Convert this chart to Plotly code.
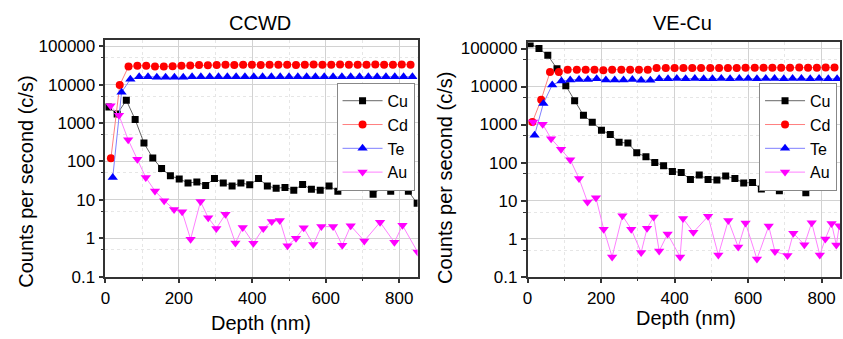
import plotly.graph_objects as go

# ---------------- CCWD (left panel) ----------------
ccwd_cu_depth = [8, 32, 57, 81, 105, 129, 153, 177, 201, 225, 249, 273, 297, 321, 345, 369, 393, 417,
                 441, 465, 489, 513, 537, 561, 585, 609, 633, 657, 681, 705, 729, 753, 777, 801, 825, 849]
ccwd_cu = [2600, 1720, 3900, 1230, 300, 122, 65, 42, 35, 27.5, 29, 23.5, 36, 27.5, 23, 27.5, 24.5, 36,
           23, 20, 21, 17.8, 25, 18.7, 17.8, 23, 16.6, 23, 24.5, 23, 14, 21, 16.6, 23.5, 16.6, 8.1]

ccwd_cd_depth = [15, 39, 63, 87, 111, 135, 159, 183, 207, 231, 255, 279, 303, 327, 351, 375, 399, 423,
                 447, 471, 495, 519, 543, 567, 591, 615, 639, 663, 687, 711, 735, 759, 783, 807, 831]
ccwd_cd = [120, 9700, 29500, 31000, 31000, 29500, 29500, 30000, 31000, 31500, 32500, 32000,
           32500, 33000, 32500, 33000, 33000, 32500, 33000, 33000, 33000, 32500, 33000, 33500,
           33000, 33000, 33500, 33000, 33000, 33000, 33500, 33000, 33000, 33500, 33000]

ccwd_te_depth = [20, 44, 68, 92, 116, 140, 164, 188, 212, 236, 260, 284, 308, 332, 356, 380, 404, 428,
                 452, 476, 500, 524, 548, 572, 596, 620, 644, 668, 692, 716, 740, 764, 788, 812, 836]
ccwd_te = [38, 6300, 13700, 16000, 16000, 15500, 15500, 15500, 15500, 16000, 16000, 15900,
           15900, 16000, 15900, 16000, 16000, 15900, 16000, 16000, 16100, 16000, 16000, 16100,
           16000, 16000, 16100, 16000, 16000, 16100, 16000, 16000, 16100, 16000, 16000]

ccwd_au_depth = [14, 37, 62, 87, 110, 135, 160, 187, 209, 232, 259, 280, 302, 327, 354, 374, 403,
                 430, 453, 475, 496, 519, 540, 566, 588, 620, 645, 668, 705, 748, 787, 809, 850]
ccwd_au = [2800, 1580, 366, 113, 38, 17, 9.5, 5.6, 4.85, 0.94, 9.0, 3.4, 1.8, 4.2, 0.75, 1.9, 0.74,
           1.8, 2.7, 2.9, 0.64, 1.0, 1.86, 0.68, 2.0, 2.0, 0.65, 2.1, 0.85, 2.6, 0.78, 2.16, 0.44]

# ---------------- VE-Cu (right panel) ----------------
ve_cu_depth = [7, 31, 55, 80, 104, 128, 152, 176, 201, 225, 249, 273, 297, 322, 346, 370, 394, 418,
               443, 467, 491, 515, 539, 564, 588, 612, 636, 660, 685, 709, 733, 757, 781, 806, 830]
ve_cu = [134000, 100000, 66000, 29500, 10500, 4200, 1750, 1150, 710, 550, 340, 325, 180, 142, 100,
         83, 58, 55, 36, 47, 36, 35, 44, 38, 29, 30, 20, 47, 18, 35, 35, 16, 39, 32, 26]

ve_cd_depth = [13, 37, 61, 85, 109, 134, 158, 182, 206, 230, 255, 279, 303, 327, 351, 376, 400, 424,
               448, 472, 497, 521, 545, 569, 593, 618, 642, 666, 690, 714, 739, 763, 787, 811, 835]
ve_cd = [1160, 4500, 24000, 24000, 27700, 27700, 27700, 27700, 26600, 27700, 27700, 27700, 27700, 27700,
         30500, 30500, 30500, 30500, 30500, 30500, 30500, 30500, 30500, 30500, 31000, 31000, 31000,
         31000, 31000, 31000, 31500, 31000, 31000, 31500, 31500]

ve_te_depth = [19, 43, 67, 92, 116, 140, 164, 188, 213, 237, 261, 285, 309, 334, 358, 382, 406, 430,
               455, 479, 503, 527, 551, 576, 600, 624, 648, 672, 697, 721, 745, 769, 793, 818, 842]
ve_te = [520, 3600, 11000, 14000, 14900, 15300, 15300, 16000, 14800, 14800, 14800, 15300, 14700, 14600,
         16000, 16000, 16200, 16000, 16200, 16000, 16000, 16200, 16000, 16200, 16200, 16000, 16200,
         16200, 16000, 16200, 16200, 16000, 16200, 16000, 16000]

ve_au_depth = [15, 41, 64, 91, 116, 140, 163, 186, 207, 230, 258, 282, 309, 325, 343, 358, 381, 415,
               423, 451, 491, 519, 546, 573, 593, 624, 656, 673, 707, 723, 753, 773, 795, 810, 827, 840, 848]
ve_au = [1160, 1020, 425, 223, 118, 38, 9.2, 11.8, 1.77, 0.33, 4.0, 1.77, 0.43, 1.86, 3.7, 0.47, 1.32,
         0.33, 3.37, 1.46, 3.85, 0.37, 3.0, 0.6, 2.56, 0.29, 2.13, 0.455, 0.36, 1.38, 0.69, 2.62, 0.37,
         0.98, 2.48, 0.68, 2.17]

species = ["Cu", "Cd", "Te", "Au"]
marker_symbols = ["square", "circle", "triangle-up", "triangle-down"]
marker_sizes = [7, 8, 9, 9]
marker_colors = ["#000000", "#ff0000", "#0000ff", "#ff00ff"]
line_colors = ["#666666", "#ff7f7f", "#7f7fff", "#ff80ff"]

y_tickvals = [0.1, 1, 10, 100, 1000, 10000, 100000]
y_ticktext = ["0.1", "1", "10", "100", "1000", "10000", "100000"]
y_minorvals = [0.5, 5, 50, 500, 5000, 50000]
x_tickvals = [0, 200, 400, 600, 800]

panels = [
    ("x", "y", "legend", [(ccwd_cu_depth, ccwd_cu), (ccwd_cd_depth, ccwd_cd),
                          (ccwd_te_depth, ccwd_te), (ccwd_au_depth, ccwd_au)]),
    ("x2", "y2", "legend2", [(ve_cu_depth, ve_cu), (ve_cd_depth, ve_cd),
                             (ve_te_depth, ve_te), (ve_au_depth, ve_au)]),
]

fig = go.Figure()
for xa, ya, leg, series in panels:
    for i, (xs, ys) in enumerate(series):
        fig.add_trace(go.Scatter(
            x=xs, y=ys, mode="lines+markers", name=species[i],
            xaxis=xa, yaxis=ya, legend=leg,
            line=dict(color=line_colors[i], width=1),
            marker=dict(symbol=marker_symbols[i], size=marker_sizes[i], color=marker_colors[i],
                        line=dict(width=0)),
        ))

W, H = 843, 339
FONT = "Liberation Sans, Arial, sans-serif"


def xax(domain, anchor):
    return dict(domain=domain, anchor=anchor, range=[0, 850], tickmode="array", tickvals=x_tickvals,
                showline=True, linecolor="#333333", linewidth=1.5, mirror=True,
                ticks="outside", ticklen=5, tickwidth=1.5, tickcolor="#333333",
                showgrid=True, gridcolor="#d2d2d2", gridwidth=1, zeroline=False,
                tickfont=dict(size=17, color="black", family=FONT),
                minor=dict(dtick=100, tick0=0, ticks="outside", ticklen=3, tickwidth=1,
                           tickcolor="#333333", showgrid=True, gridcolor="#e6e6e6", griddash="dot"))


def yax(domain, anchor):
    return dict(domain=domain, anchor=anchor, type="log", range=[-1, 5.16], tickmode="array",
                tickvals=y_tickvals, ticktext=y_ticktext,
                showline=True, linecolor="#333333", linewidth=1.5, mirror=True,
                ticks="outside", ticklen=5, tickwidth=1.5, tickcolor="#333333",
                showgrid=True, gridcolor="#d2d2d2", gridwidth=1, zeroline=False,
                tickfont=dict(size=17, color="black", family=FONT),
                minor=dict(tickmode="array", tickvals=y_minorvals, ticks="outside", ticklen=3, tickwidth=1,
                           tickcolor="#333333", showgrid=True, gridcolor="#e6e6e6", griddash="dot"))


def leg(xr, yt):
    return dict(x=xr / W, y=(H - yt) / H, xanchor="right", yanchor="top",
                bgcolor="white", bordercolor="#888888", borderwidth=1,
                font=dict(size=16, color="black", family=FONT), itemwidth=40, tracegroupgap=0)


def ann(text, xp, yp, size=20, angle=0):
    return dict(text=text, x=xp / W, y=(H - yp) / H, xref="paper", yref="paper",
                showarrow=False, xanchor="center", yanchor="middle", textangle=angle,
                font=dict(size=size, color="black", family=FONT))


fig.update_layout(
    width=W, height=H, margin=dict(l=0, r=0, t=0, b=0),
    paper_bgcolor="white", plot_bgcolor="white",
    font=dict(family=FONT, size=17, color="black"),
    xaxis=xax([101 / W, 415 / W], "y"),
    yaxis=yax([(H - 284.5) / H, (H - 38.5) / H], "x"),
    xaxis2=xax([525.7 / W, 840 / W], "y2"),
    yaxis2=yax([(H - 284.5) / H, (H - 41) / H], "x2"),
    legend=leg(412, 83),
    legend2=leg(837, 83),
    annotations=[
        ann("CCWD", 257, 21),
        ann("VE-Cu", 682, 21),
        ann("Depth (nm)", 258, 333),
        ann("Depth (nm)", 685, 328),
        ann("Counts per second (c/s)", 21, 186, angle=-90),
        ann("Counts per second (c/s)", 442.5, 182, angle=-90),
    ],
)

fig.write_html("out.html", config={"displayModeBar": False},
               post_script="document.body.style.margin='0';document.body.style.overflow='hidden';")
